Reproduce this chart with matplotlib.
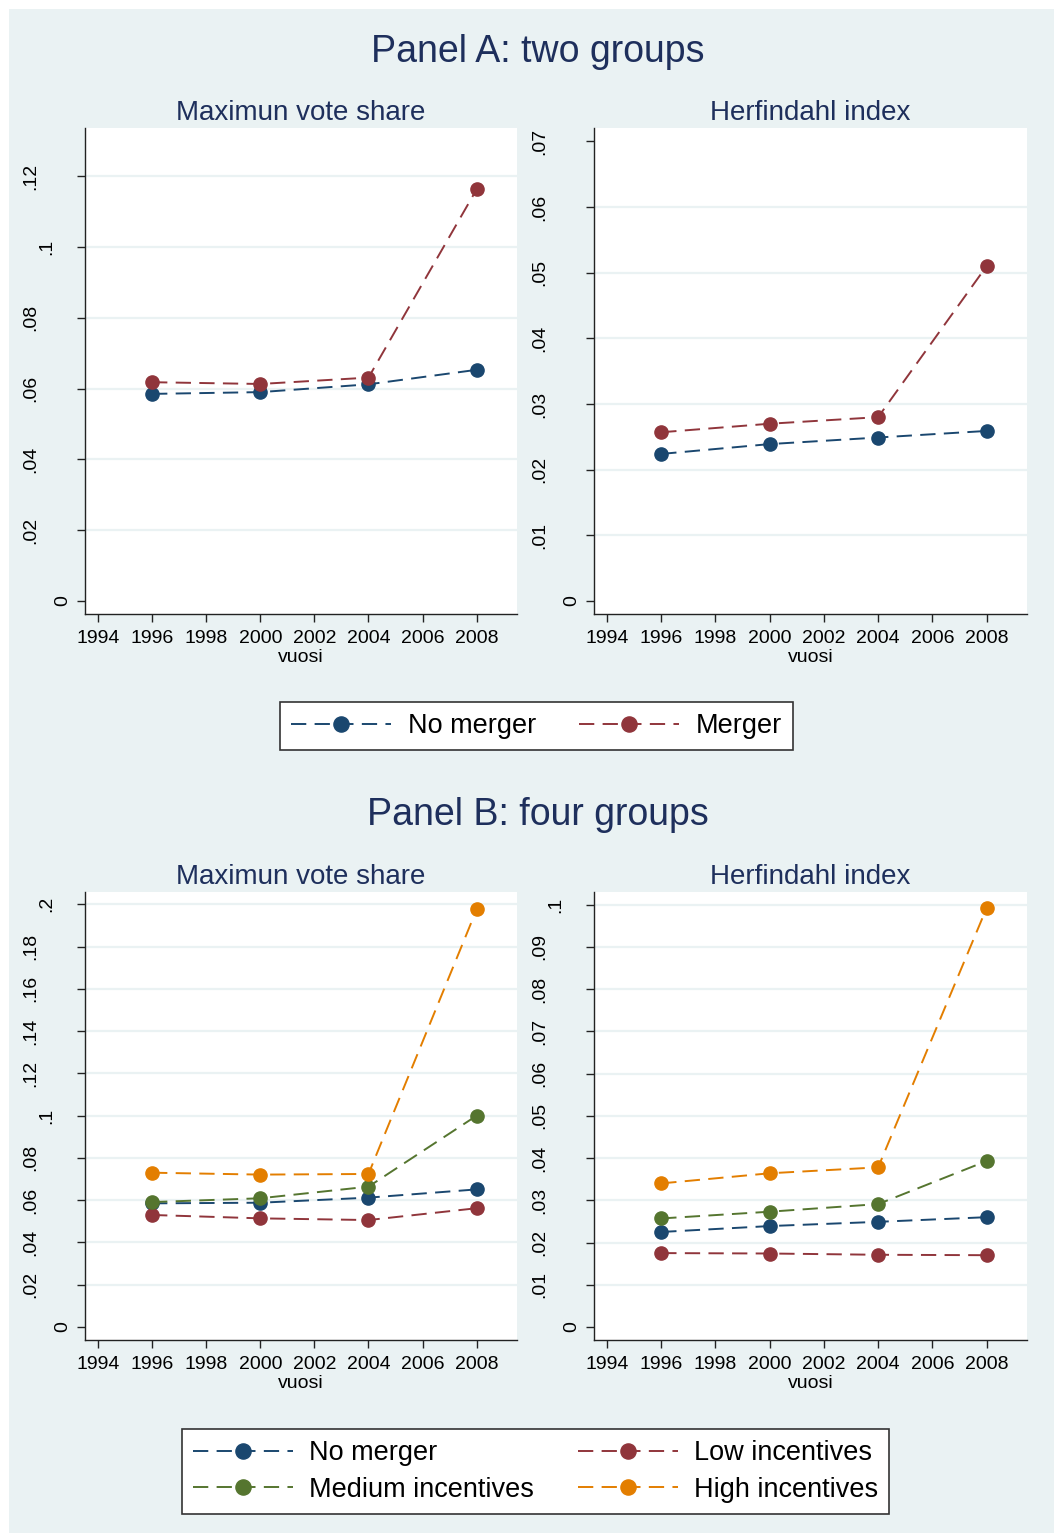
import matplotlib
matplotlib.use("Agg")
import matplotlib.pyplot as plt
from matplotlib.patches import Rectangle
from matplotlib.transforms import ScaledTranslation

# ---------------- data ----------------
years = [1996, 2000, 2004, 2008]
xticks = [1994, 1996, 1998, 2000, 2002, 2004, 2006, 2008]

# Panel A: two groups
a_max_nomerger = [0.0585, 0.0590, 0.0612, 0.0653]
a_max_merger = [0.0618, 0.0613, 0.0631, 0.1163]
a_herf_nomerger = [0.0224, 0.0239, 0.0249, 0.0259]
a_herf_merger = [0.0257, 0.0270, 0.0280, 0.0510]

# Panel B: four groups
b_max_nomerger = [0.0585, 0.0588, 0.0612, 0.0651]
b_max_low = [0.0530, 0.0514, 0.0506, 0.0562]
b_max_med = [0.0591, 0.0609, 0.0664, 0.1000]
b_max_high = [0.0730, 0.0721, 0.0724, 0.1976]
b_herf_nomerger = [0.0225, 0.0239, 0.0249, 0.0260]
b_herf_low = [0.0175, 0.0174, 0.0171, 0.0170]
b_herf_med = [0.0257, 0.0273, 0.0291, 0.0393]
b_herf_high = [0.0340, 0.0364, 0.0378, 0.0992]

ticks_a_max = [0, 0.02, 0.04, 0.06, 0.08, 0.10, 0.12]
labels_a_max = ["0", ".02", ".04", ".06", ".08", ".1", ".12"]
ticks_a_herf = [0, 0.01, 0.02, 0.03, 0.04, 0.05, 0.06, 0.07]
labels_a_herf = ["0", ".01", ".02", ".03", ".04", ".05", ".06", ".07"]
ticks_b_max = [0, 0.02, 0.04, 0.06, 0.08, 0.10, 0.12, 0.14, 0.16, 0.18, 0.20]
labels_b_max = ["0", ".02", ".04", ".06", ".08", ".1", ".12", ".14", ".16", ".18", ".2"]
ticks_b_herf = [0, 0.01, 0.02, 0.03, 0.04, 0.05, 0.06, 0.07, 0.08, 0.09, 0.10]
labels_b_herf = ["0", ".01", ".02", ".03", ".04", ".05", ".06", ".07", ".08", ".09", ".1"]

names_a = ["No merger", "Merger"]
names_b = ["No merger", "Low incentives", "Medium incentives", "High incentives"]

# ---------------- style ----------------
NAVY = "#1a476f"
MAROON = "#90353b"
GREEN = "#55752f"
ORANGE = "#e37e00"
BG = "#eaf2f3"
TITLE_C = "#1e2f5c"

plt.rcParams["font.family"] = ["Liberation Sans", "DejaVu Sans"]
plt.rcParams["lines.scale_dashes"] = False

W, H = 1054, 1533
fig = plt.figure(figsize=(W / 100, H / 100), dpi=100)
fig.patch.set_facecolor("white")
fig.patches.append(Rectangle((9 / W, 0), 1 - 9 / W, 1 - 9 / H, transform=fig.transFigure,
                             facecolor=BG, edgecolor="none", zorder=-10))

TICK_FS = 14


def add_ax(left, right, top, bottom):
    return fig.add_axes([left / W, 1 - bottom / H, (right - left) / W, (bottom - top) / H])


def style_ax(ax, subtitle, yticks, ylabels, ylim, hide_top_grid=False):
    ax.set_facecolor("white")
    ax.set_xlim(1993.52, 2009.49)
    ax.set_ylim(*ylim)
    for s in ["top", "right"]:
        ax.spines[s].set_visible(False)
    for s in ["left", "bottom"]:
        ax.spines[s].set_color("#222222")
        ax.spines[s].set_linewidth(1.0)
    ax.set_xticks(xticks)
    ax.set_xticklabels([str(t) for t in xticks])
    ax.set_yticks(yticks)
    ax.set_yticklabels(ylabels)
    ax.tick_params(axis="x", length=5.5, width=1, pad=6, labelsize=TICK_FS, color="#222222")
    ax.tick_params(axis="y", length=5.5, width=1, pad=10.5, labelsize=TICK_FS, color="#222222",
                   labelrotation=90)
    ax.set_xlabel("vuosi", fontsize=TICK_FS, labelpad=1.5)
    ax.set_title(subtitle, fontsize=20, color=TITLE_C, pad=5.5)
    ax.set_axisbelow(True)
    ax.grid(axis="y", color=BG, linewidth=1.6)
    ax.grid(axis="x", visible=False)
    gl = ax.yaxis.get_gridlines()
    gl[0].set_visible(False)
    if hide_top_grid:
        gl[-1].set_visible(False)
    for lab in ax.get_yticklabels():
        lab.set_horizontalalignment("center")
        lab.set_verticalalignment("center")
        n = len(lab.get_text())
        lab.set_transform(lab.get_transform() +
                          ScaledTranslation(-16 * (n - 1) / 100, 0, fig.dpi_scale_trans))


def plot_series(ax, ys, colors, labels):
    handles = []
    for y, c, lab in zip(ys, colors, labels):
        h, = ax.plot(years, y, color=c, lw=1.4, dashes=(11, 6), marker="o", markersize=9.5,
                     markerfacecolor=c, markeredgecolor=c, label=lab)
        handles.append(h)
    return handles


LEG_KW = dict(loc="center", ncol=2, fontsize=19.5, frameon=True, fancybox=False,
              edgecolor="#333333", facecolor="white", framealpha=1, handlelength=3.7,
              handletextpad=0.6, columnspacing=1.6, borderpad=0.4, labelspacing=0.4,
              borderaxespad=0, markerscale=1.15)

# ---------------- Panel A ----------------
fig.text(538 / W, 1 - 62 / H, "Panel A: two groups", fontsize=27, color=TITLE_C,
         ha="center", va="baseline")

ax1 = add_ax(85, 517, 128, 614)
hA = plot_series(ax1, [a_max_nomerger, a_max_merger], [NAVY, MAROON], names_a)
style_ax(ax1, "Maximun vote share", ticks_a_max, labels_a_max, (-0.00367, 0.1336))

ax2 = add_ax(594, 1027, 128, 614)
plot_series(ax2, [a_herf_nomerger, a_herf_merger], [NAVY, MAROON], names_a)
style_ax(ax2, "Herfindahl index", ticks_a_herf, labels_a_herf, (-0.00198, 0.07204),
         hide_top_grid=True)

leg1 = fig.legend(handles=hA, labels=names_a, bbox_to_anchor=(536.5 / W, 1 - 726 / H), **LEG_KW)
leg1.get_frame().set_linewidth(1.2)

# ---------------- Panel B ----------------
fig.text(538 / W, 1 - 825 / H, "Panel B: four groups", fontsize=27, color=TITLE_C,
         ha="center", va="baseline")

colsB = [NAVY, MAROON, GREEN, ORANGE]
ax3 = add_ax(85, 517, 892, 1340)
hB = plot_series(ax3, [b_max_nomerger, b_max_low, b_max_med, b_max_high], colsB, names_b)
style_ax(ax3, "Maximun vote share", ticks_b_max, labels_b_max, (-0.00615, 0.2058))

ax4 = add_ax(594, 1027, 892, 1340)
plot_series(ax4, [b_herf_nomerger, b_herf_low, b_herf_med, b_herf_high], colsB, names_b)
style_ax(ax4, "Herfindahl index", ticks_b_herf, labels_b_herf, (-0.00308, 0.1030))

order = [0, 2, 1, 3]
leg2 = fig.legend(handles=[hB[i] for i in order], labels=[names_b[i] for i in order],
                  bbox_to_anchor=(535.5 / W, 1 - 1471.5 / H), **LEG_KW)
leg2.get_frame().set_linewidth(1.2)

fig.savefig("out.png", dpi=100)
